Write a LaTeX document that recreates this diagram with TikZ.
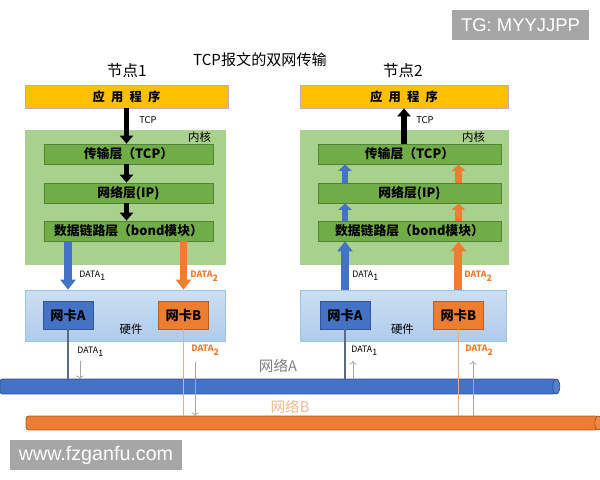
\documentclass[tikz,border=0pt]{standalone}
\usepackage{fontspec}
\setmainfont{Noto Sans CJK SC}
\newfontfamily\wmfont{Liberation Sans}
\usetikzlibrary{arrows.meta}
\definecolor{appyellow}{HTML}{FFC000}
\definecolor{kgreen}{HTML}{A9D18E}
\definecolor{lgreen}{HTML}{70AD47}
\definecolor{hwtop}{HTML}{CCDFF3}
\definecolor{hwbot}{HTML}{AFCBEB}
\definecolor{hwline}{HTML}{9DC3E6}
\definecolor{nicblue}{HTML}{4472C4}
\definecolor{nicorange}{HTML}{ED7D31}
\definecolor{wireA}{HTML}{5B6B85}
\definecolor{wireB}{HTML}{DDB08E}
\definecolor{wmgray}{HTML}{A6A6A6}

\begin{document}
\begin{tikzpicture}[x=0.02cm,y=-0.02cm,
  every node/.style={inner sep=0pt},
  fs/.style={font=\fontsize{#1}{#1}\selectfont},
  app/.style={fill=appyellow,draw=black!30,minimum width=#1,minimum height=.46cm,
    font=\fontsize{7}{8}\selectfont\bfseries},
  kern/.style={fill=kgreen,minimum width=#1,minimum height=2.7cm},
  lyr/.style={fill=lgreen,draw=lgreen!75!black,minimum width=#1,minimum height=.4cm,
    font=\fontsize{7.3}{8}\selectfont\bfseries},
  hw/.style={top color=hwtop,bottom color=hwbot,draw=hwline,minimum width=#1,minimum height=1.02cm},
  nic/.style={fill=#1,draw=#1!75!black,minimum width=1cm,minimum height=.56cm,
    font=\fontsize{7.5}{8}\selectfont\bfseries},
  net/.style={fill=#1,draw=#1!70!black,rounded corners=1.5pt},
  blk/.style={line width=.12cm,-{Triangle[width=.26cm,length=.16cm]}},
  dataarr/.style={draw=#1,line width=.16cm,-{Triangle[width=.3cm,length=.2cm]}},
  uparr/.style={draw=#1,line width=.13cm,-{Triangle[width=.26cm,length=.13cm]}},
  wire/.style={draw=#1,line width=.9pt},
  sarr/.style={draw=black!35,line width=.4pt,-{To[length=2pt]}},
  lbl/.style={font=\fontsize{5}{6}\selectfont,anchor=west},
  wm/.style={fill=wmgray,text=white,font=\wmfont\fontsize{#1}{#1}\selectfont}]
  \useasboundingbox (0,0) rectangle (600,480);

  % titles
  \node[fs=8.6] (title) at (260,60) {TCP报文的双网传输};
  \node[fs=8.8] (lab1) at (127,71) {节点1};
  \node[fs=8.8] (lab2) at (403,71) {节点2};

  % kernels, apps, layers
  \node[kern=4.02cm] (ker1) at (125.5,197.5) {};
  \node[kern=4.18cm] (ker2) at (404.5,197.5) {};
  \node[fs=6.5,anchor=north east] (kl1) at ([xshift=-.3cm,yshift=-.04cm]ker1.north east) {内核};
  \node[fs=6.5,anchor=north east] (kl2) at ([xshift=-.48cm,yshift=-.04cm]ker2.north east) {内核};
  \node[app=4.06cm] (app1) at (126.5,96.5) {应\hspace{.5em}用\hspace{.5em}程\hspace{.5em}序};
  \node[app=4.16cm] (app2) at (404,96.5) {应\hspace{.5em}用\hspace{.5em}程\hspace{.5em}序};
  \foreach \n/\t/\y in {tcp/传输层（TCP）/154, ip/网络层(IP)/193, dl/数据链路层（bond模块）/231} {
    \node[lyr=3.38cm] (\n1) at (128.5,\y) {\t};
    \node[lyr=3.66cm] (\n2) at (409.5,\y) {\t};
  }

  % hardware
  \node[hw=4cm] (hw1) at (125,315.5) {};
  \node[hw=4.12cm] (hw2) at (403,315.5) {};
  \node[nic=nicblue] (nicA1) at (68,315) {网卡A};
  \node[nic=nicorange] (nicB1) at (183.5,315) {网卡B};
  \node[nic=nicblue] (nicA2) at (345,315) {网卡A};
  \node[nic=nicorange] (nicB2) at (458.5,315) {网卡B};
  \node[fs=6.5] (hwl1) at (131,329) {硬件};
  \node[fs=6.5] (hwl2) at (402.5,329) {硬件};

  % node 1: down the stack
  \draw[blk] (app1.south) -- (app1 |- tcp1.north);
  \draw[blk] (app1 |- tcp1.south) -- (app1 |- ip1.north);
  \draw[blk] (app1 |- ip1.south) -- (app1 |- dl1.north);
  \node[fs=5.3,anchor=west] (tcpl1) at (139,120) {TCP};
  \draw[dataarr=nicblue] (nicA1 |- dl1.south) -- (nicA1 |- hw1.north);
  \draw[dataarr=nicorange] (nicB1 |- dl1.south) -- (nicB1 |- hw1.north);
  \node[lbl] (d11) at (79,276) {DATA\textsubscript{1}};
  \node[lbl,text=nicorange,font=\fontsize{5}{6}\selectfont\bfseries] (d21) at (190,276) {DATA\textsubscript{2}};

  % node 2: up the stack
  \draw[blk] (app2 |- tcp2.north) -- (app2.south);
  \node[fs=5.3,anchor=west] (tcpl2) at (416,120) {TCP};
  \foreach \c/\k in {nicblue/nicA2, nicorange/nicB2} {
    \draw[uparr=\c] (\k |- dl2.north) -- (\k |- ip2.south);
    \draw[uparr=\c] (\k |- ip2.north) -- (\k |- tcp2.south);
    \draw[dataarr=\c] (\k |- hw2.north) -- (\k |- dl2.south);
  }
  \node[lbl] (d12) at (352,276) {DATA\textsubscript{1}};
  \node[lbl,text=nicorange,font=\fontsize{5}{6}\selectfont\bfseries] (d22) at (464,276) {DATA\textsubscript{2}};

  % networks
  \node[net=nicblue,minimum width=11.12cm,minimum height=.3cm] (netA) at (278,386.5) {};
  \draw[draw=nicblue!70!black,fill=nicblue!90] (netA.east) ellipse [x radius=.07cm,y radius=.15cm];
  \node[net=nicorange,minimum width=11.44cm,minimum height=.28cm] (netB) at (312,423) {};
  \draw[draw=nicorange!70!black,fill=nicorange!90] (netB.east) ellipse [x radius=.07cm,y radius=.14cm];
  \node[fs=8.3,text=black!50] (nAl) at (278,366) {网络A};
  \node[fs=8.3,text=nicorange!55] (nBl) at (290,407) {网络B};

  % wires and small arrows
  \draw[wire=wireA] (nicA1.south) -- (nicA1.south |- netA.north);
  \draw[wire=wireB] (nicB1.south) -- (nicB1.south |- netB.north);
  \draw[wire=wireA] (nicA2.south) -- (nicA2.south |- netA.north);
  \draw[wire=wireB] (nicB2.south) -- (nicB2.south |- netB.north);
  \coordinate (sA1) at (80,361);  \coordinate (eA1) at (80,379);
  \coordinate (sB1) at (195,362); \coordinate (eB1) at (195,416);
  \coordinate (sA2) at (353,379); \coordinate (eA2) at (353,361);
  \coordinate (sB2) at (473,416); \coordinate (eB2) at (473,361);
  \foreach \s in {A1,B1,A2,B2} \draw[sarr] (s\s) -- (e\s);
  \node[lbl] (d13) at (77,352) {DATA\textsubscript{1}};
  \node[lbl,text=nicorange,font=\fontsize{5}{6}\selectfont\bfseries] (d23) at (191,350) {DATA\textsubscript{2}};
  \node[lbl] (d14) at (351,351) {DATA\textsubscript{1}};
  \node[lbl,text=nicorange,font=\fontsize{5}{6}\selectfont\bfseries] (d24) at (465,350) {DATA\textsubscript{2}};

  % watermarks
  \node[wm=10.5,minimum width=2.76cm,minimum height=.6cm] (wm1) at (520.5,25) {TG: MYYJJPP};
  \node[wm=11.2,minimum width=3.44cm,minimum height=.6cm] (wm2) at (96,455) {www.fzganfu.com};
\end{tikzpicture}
\end{document}
